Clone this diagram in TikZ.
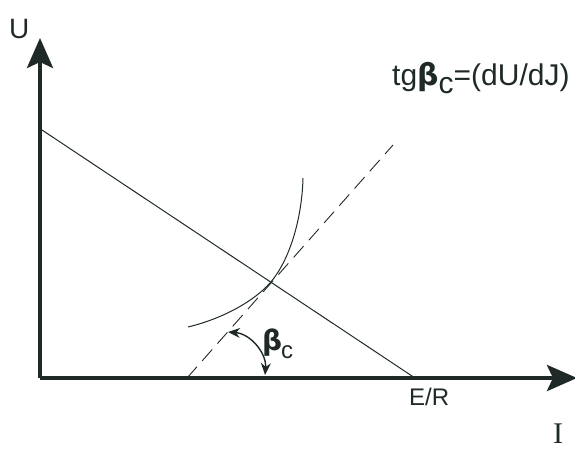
\documentclass[tikz,border=0pt]{standalone}
\usepackage{fontspec}
\setmainfont{Liberation Sans}
\newfontfamily\serifI{Liberation Serif}
\newfontfamily\betafont{DejaVu Sans}
\usetikzlibrary{arrows.meta}
\definecolor{ink}{HTML}{1F2A28}
\tikzset{
  axis/.style={draw=ink, line width=4pt, -{Stealth[length=30pt,width=26pt,inset=6pt]}},
  thin/.style={draw=ink, line width=1pt},
  dashline/.style={draw=ink, line width=0.9pt, dash pattern=on 15pt off 8pt},
  lbl/.style={text=ink, inner sep=0pt, font=\fontsize{28}{30}\selectfont},
  tglbl/.style={text=ink, inner sep=0pt, font=\fontsize{30}{32}\selectfont},
  smlbl/.style={text=ink, inner sep=0pt, font=\fontsize{24}{26}\selectfont},
  angarr/.style={draw=ink, line width=1.4pt, {Stealth[length=12pt,width=10pt]}-{Stealth[length=12pt,width=10pt]}}
}
\begin{document}
\begin{tikzpicture}[x=1pt,y=-1pt]
\useasboundingbox (0,0) rectangle (575,450);
\coordinate (O) at (40,378);
\coordinate (Ytip) at (40,38);
\coordinate (Xtip) at (577,378);
\coordinate (E) at (42,130);
\coordinate (ER) at (415,378);
\coordinate (D0) at (187,378);
\coordinate (D1) at (393,145);
\coordinate (P) at (270,283);
\coordinate (CA) at (188,327);
\coordinate (CB) at (303,178);
\coordinate (A1) at (228,332);
\coordinate (A2) at (265,375);
% load line
\draw[thin] (E) -- (ER);
% dashed tangent
\draw[dashline] (D0) -- (D1);
% curve
\draw[thin] (CA) .. controls (225,318) and (255,300) .. (P) .. controls (290,260) and (302,218) .. (CB);
% axes
\draw[axis] (O) -- (Ytip);
\draw[axis] (O) -- (Xtip);
% angle arrow
\draw[angarr] (A1) to[bend left=45] (A2);
% labels
\node[lbl, anchor=base west] (U) at (9,38) {U};
\node[tglbl, anchor=base west] (tg) at (392,85) {tg{\betafont\bfseries β}\raisebox{-8pt}{c}=(dU/dJ)};
\node[lbl, anchor=base west] (bc) at (262,350) {{\betafont\bfseries β}\hspace{-1pt}\raisebox{-8pt}{\fontsize{24}{26}\selectfont c}};
\node[smlbl, anchor=base west] (erl) at (409,405) {E/R};
\node[text=ink, inner sep=0pt, anchor=base west, font=\serifI\fontsize{30}{32}\selectfont] (I) at (553,443) {I};
\end{tikzpicture}
\end{document}
